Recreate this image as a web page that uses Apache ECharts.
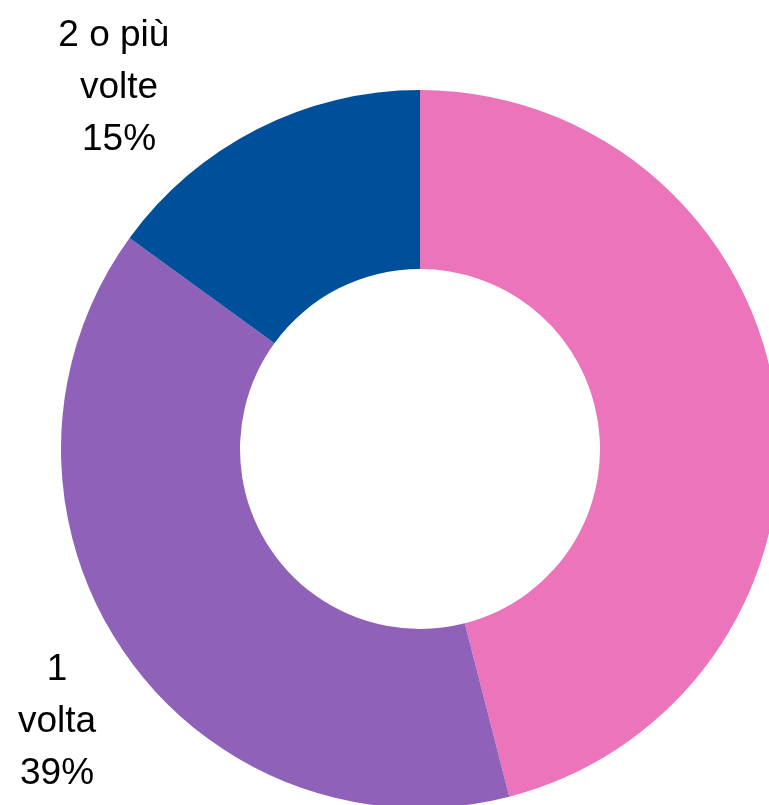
<!DOCTYPE html>
<html>
<head>
<meta charset="utf-8">
<script src="https://cdn.jsdelivr.net/npm/echarts@6/dist/echarts.min.js"></script>
<style>
html,body{margin:0;padding:0;background:#fff;}
#c{width:769px;height:805px;}
</style>
</head>
<body>
<div id="c"></div>
<script>
const categories = ['Mai', '1\nvolta', '2 o più \nvolte'];
const values = [46, 39, 15];
const colors = ['#EB74BA', '#8F61B9', '#004F9A'];

const labelPos = [null, {x: 57, y: 722}, {x: 119, y: 88}];

const chart = echarts.init(document.getElementById('c'), null, {renderer: 'canvas'});
chart.setOption({
  animation: false,
  backgroundColor: '#ffffff',
  series: [{
    type: 'pie',
    center: [420, 449],
    radius: [180, 359],
    startAngle: 90,
    clockwise: true,
    avoidLabelOverlap: false,
    silent: true,
    itemStyle: {borderWidth: 0},
    label: {
      show: true,
      position: 'outside',
      fontFamily: 'Liberation Sans',
      fontSize: 37,
      lineHeight: 52,
      color: '#000000',
      align: 'center',
      formatter: p => p.name + '\n' + Math.round(p.percent) + '%'
    },
    labelLine: {show: false},
    labelLayout: function (params) {
      const pos = labelPos[params.dataIndex];
      if (!pos) return {};
      return {x: pos.x, y: pos.y, align: 'center', verticalAlign: 'middle'};
    },
    data: categories.map((n, i) => ({
      name: n,
      value: values[i],
      itemStyle: {color: colors[i]},
      label: {show: labelPos[i] !== null}
    }))
  }]
});
</script>
</body>
</html>
